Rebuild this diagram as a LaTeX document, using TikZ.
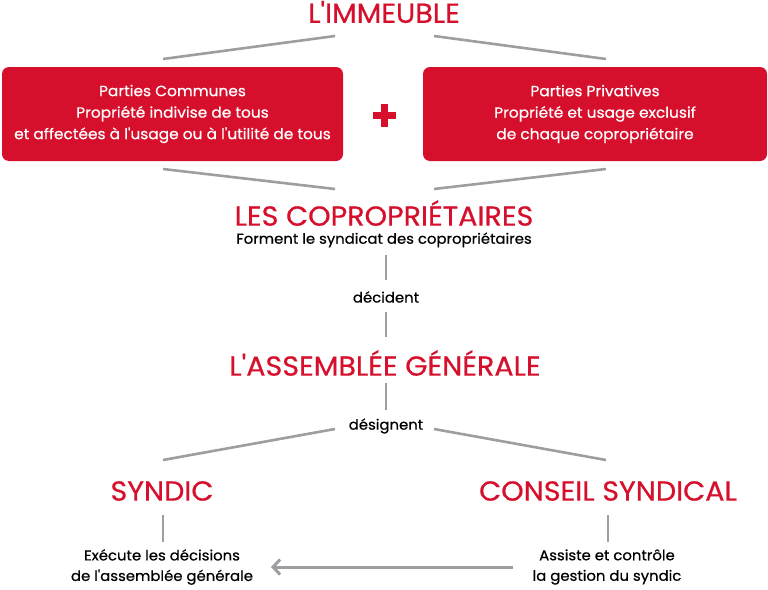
\documentclass[tikz,border=0pt]{standalone}
\usepackage{fontspec}
\setmainfont{Poppins}[FakeStretch=1.04, FakeBold=0.6, Ligatures=TeXOff]
\usetikzlibrary{arrows.meta}
\definecolor{cred}{RGB}{214,16,44}
\definecolor{cgray}{RGB}{158,158,162}
\tikzset{
  head/.style={text=cred, inner sep=0pt, font=\fontsize{27.5}{30}\selectfont},
  boxtxt/.style={fill=cred, rounded corners=7pt, text=white, align=center, inner sep=0pt,
     font=\fontsize{14.8}{21.5}\selectfont},
  body/.style={text=black, inner sep=0pt, align=center, font=\fontsize{14.3}{20.5}\selectfont},
  conn/.style={draw=cgray, line width=2.6pt},
}
\begin{document}
\begin{tikzpicture}[x=1pt,y=-1pt]
\useasboundingbox (0,0) rectangle (768,589);
% headings
\node[head] (imm) at (384,12) {L'IMMEUBLE};
\node[boxtxt, minimum width=341pt, minimum height=94pt] (bl) at (172.5,114)
  {Parties Communes\\Propriété indivise de tous\\et affectées à l'usage ou à l'utilité de tous};
\node[boxtxt, minimum width=344pt, minimum height=94pt] (br) at (595,114)
  {Parties Privatives\\Propriété et usage exclusif\\de chaque copropriétaire};
\node[inner sep=0pt, minimum size=23pt] (plus) at (384.5,115.5) {};
\draw[cred, line width=7pt] (plus.west) -- (plus.east) (plus.north) -- (plus.south);
\node[head] (cop) at (384,213) {LES COPROPRIÉTAIRES};
\node[body] (form) at (384,240) {Forment le syndicat des copropriétaires};
\node[body] (dec) at (386,297) {décident};
\node[head] (ag) at (385,363) {L'ASSEMBLÉE GÉNÉRALE};
\node[body] (des) at (386,426) {désignent};
\node[head] (syn) at (162,491) {SYNDIC};
\node[head] (cs) at (608,491) {CONSEIL SYNDICAL};
\node[body] (exe) at (162,567) {Exécute les décisions\\de l'assemblée générale};
\node[body] (ass) at (607,567) {Assiste et contrôle\\la gestion du syndic};
% connector end points
\coordinate (a1) at (335,36); \coordinate (a2) at (163,59);
\coordinate (b1) at (434,36); \coordinate (b2) at (606,59);
\coordinate (c1) at (163,169); \coordinate (c2) at (335,189);
\coordinate (d1) at (606,169); \coordinate (d2) at (434,189);
\coordinate (e1) at (386,255); \coordinate (e2) at (386,280);
\coordinate (f1) at (386,312); \coordinate (f2) at (386,337);
\coordinate (g1) at (386,383); \coordinate (g2) at (386,410);
\coordinate (h1) at (335,429); \coordinate (h2) at (163,460);
\coordinate (i1) at (434,429); \coordinate (i2) at (606,460);
\coordinate (j1) at (163,515); \coordinate (j2) at (163,542);
\coordinate (k1) at (608,515); \coordinate (k2) at (608,542);
\coordinate (m1) at (513,567); \coordinate (m2) at (271,567);
\draw[conn] (a1) -- (a2);
\draw[conn] (b1) -- (b2);
\draw[conn] (c1) -- (c2);
\draw[conn] (d1) -- (d2);
\draw[conn] (e1) -- (e2);
\draw[conn] (f1) -- (f2);
\draw[conn] (g1) -- (g2);
\draw[conn] (h1) -- (h2);
\draw[conn] (i1) -- (i2);
\draw[conn] (j1) -- (j2);
\draw[conn] (k1) -- (k2);
\draw[conn, line width=3pt, -{Straight Barb[length=7pt,width=15pt,line width=3pt]}] (m1) -- (m2);
\end{tikzpicture}
\end{document}
